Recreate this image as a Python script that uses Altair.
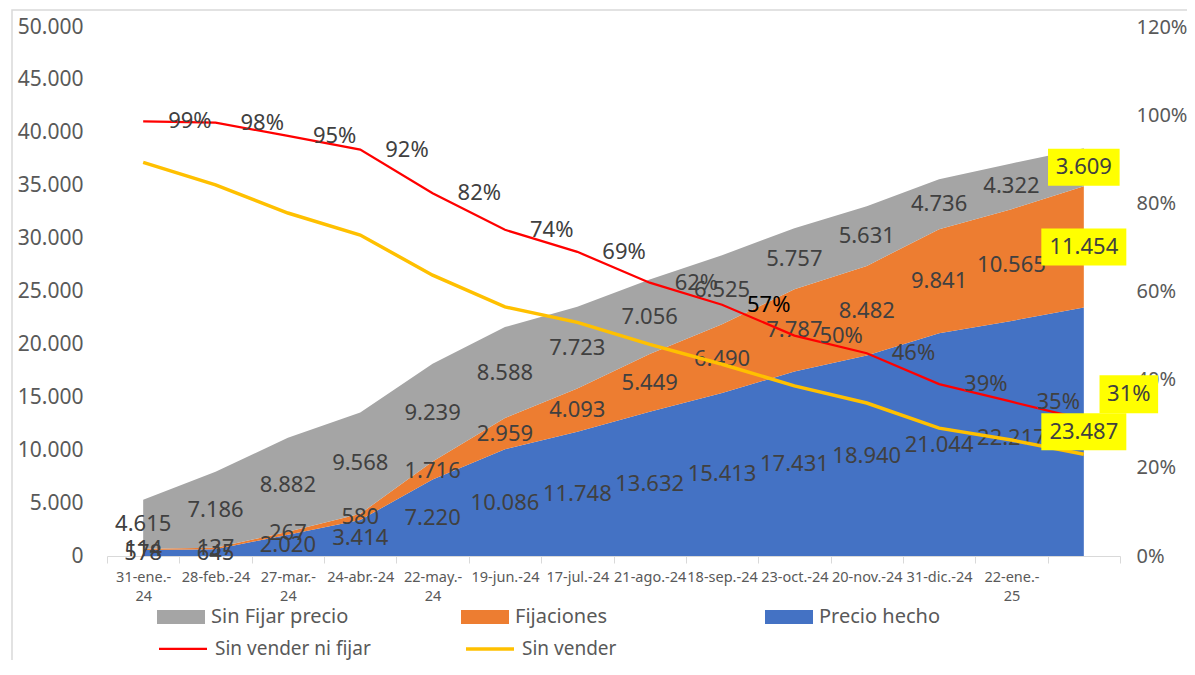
import json
import altair as alt
import pandas as pd

# ---------------- data ----------------
fechas = ["31-ene.-24", "28-feb.-24", "27-mar.-24", "24-abr.-24", "22-may.-24",
          "19-jun.-24", "17-jul.-24", "21-ago.-24", "18-sep.-24", "23-oct.-24",
          "20-nov.-24", "31-dic.-24", "22-ene.-25", ""]
fecha_en_dos_lineas = [True, False, True, False, True, False, False, False,
                       False, False, False, False, True, False]

precio_hecho = [578, 645, 2020, 3414, 7220, 10086, 11748, 13632, 15413, 17431,
                18940, 21044, 22217, 23487]
fijaciones = [114, 137, 267, 580, 1716, 2959, 4093, 5449, 6490, 7787, 8482,
              9841, 10565, 11454]
sin_fijar_precio = [4615, 7186, 8882, 9568, 9239, 8588, 7723, 7056, 6525, 5757,
                    5631, 4736, 4322, 3609]

sin_vender_ni_fijar = [0.986, 0.983, 0.953, 0.922, 0.823, 0.740, 0.690, 0.620,
                       0.570, 0.500, 0.460, 0.390, 0.350, 0.310]
sin_vender = [0.893, 0.842, 0.778, 0.728, 0.637, 0.565, 0.530, 0.480, 0.435,
              0.386, 0.347, 0.290, 0.263, 0.231]

serie_area = ["Sin Fijar precio", "Fijaciones", "Precio hecho"]
color_area = ["#A5A5A5", "#ED7D31", "#4472C4"]
serie_linea = ["Sin vender ni fijar", "Sin vender"]
color_linea = ["#FF0000", "#FFC000"]
grosor_linea = [2.25, 3.5]

# ---------------- layout / style ----------------
W, H = 1013, 529
N = len(fechas)
BAND = W / N
FONT = "Noto Sans"
TXT = "#404040"
AX = "#595959"
YELLOW = "#FFFF00"


def miles(v):
    return f"{v:,}".replace(",", ".")


rows = []
for serie, vals, orden in [("Precio hecho", precio_hecho, 0),
                           ("Fijaciones", fijaciones, 1),
                           ("Sin Fijar precio", sin_fijar_precio, 2)]:
    for i, v in enumerate(vals):
        rows.append(dict(i=i, serie=serie, caja=f"caja{orden}", valor=v,
                         orden=orden, etiqueta=miles(v), ultimo=(i == N - 1)))
df_area = pd.DataFrame(rows)

rows = []
for serie, vals in zip(serie_linea, [sin_vender_ni_fijar, sin_vender]):
    for i, v in enumerate(vals):
        rows.append(dict(i=i, serie=serie, valor=v))
df_linea = pd.DataFrame(rows)

etiquetas_eje = [(f[:-2] + "|" + f[-2:]) if dos else f
                 for f, dos in zip(fechas, fecha_en_dos_lineas)]
label_expr_x = ("split((" + json.dumps(etiquetas_eje).replace('"', "'")
                + ")[round(datum.value + 0.5)] || '', '|')")

x_scale = alt.Scale(domain=[-0.5, N - 0.5], nice=False, zero=False)
yl_scale = alt.Scale(domain=[0, 50000], nice=False, zero=True)
yr_scale = alt.Scale(domain=[0, 1.2], nice=False, zero=True)

x_axis = alt.Axis(values=[k - 0.5 for k in range(N + 1)], labelExpr=label_expr_x,
                  labelOffset=BAND / 2, labelFlush=False, labelOverlap=False,
                  labelBound=False, grid=False, domainColor="#D9D9D9",
                  tickColor="#D9D9D9", tickSize=7, labelPadding=7,
                  labelFont=FONT, labelFontSize=14.5, labelColor=AX,
                  labelLineHeight=19, title=None)
x_enc = alt.X("i:Q", scale=x_scale, axis=x_axis)
x_plain = alt.X("i:Q", scale=x_scale, title=None)

yl_axis = alt.Axis(values=list(range(0, 50001, 5000)),
                   labelExpr="replace(format(datum.value, ','), ',', '.')",
                   grid=False, domain=False, ticks=False, tickSize=0,
                   labelPadding=24, labelFont=FONT, labelFontSize=21,
                   labelColor=AX, title=None)
yr_axis = alt.Axis(orient="right", values=[0, 0.2, 0.4, 0.6, 0.8, 1.0, 1.2],
                   format=".0%", grid=False, domain=False, ticks=False,
                   tickSize=0, labelPadding=16, labelFont=FONT,
                   labelFontSize=20, labelColor=AX, title=None)

stack_args = dict(stack="valor", groupby=["i"],
                  sort=[alt.SortField("orden", order="ascending")],
                  as_=["v0", "v1"])

# chart frame (decoration)
frame = alt.Chart(pd.DataFrame({"k": [0]})).mark_rect(
    filled=False, stroke="#D9D9D9", strokeWidth=1.5
).encode(x=alt.value(-95), x2=alt.value(1300), y=alt.value(-17), y2=alt.value(900))

area = alt.Chart(df_area).transform_stack(**stack_args).mark_area(
    opacity=1, interpolate="linear"
).encode(
    x=x_enc,
    y=alt.Y("v1:Q", scale=yl_scale, axis=yl_axis, stack=None),
    y2="v0:Q",
    fill=alt.Fill("serie:N", scale=alt.Scale(domain=serie_area, range=color_area),
                  legend=alt.Legend(orient="none", legendX=50, legendY=566,
                                    direction="horizontal", columns=3,
                                    gridAlign="all", columnPadding=112,
                                    symbolType="M-1,-0.2917H1V0.2917H-1Z",
                                    symbolSize=2304, symbolStrokeWidth=0,
                                    labelFont=FONT, labelFontSize=20,
                                    labelColor=AX, labelOffset=6,
                                    labelLimit=400, padding=0, title=None)),
    order=alt.Order("orden:Q"),
)

area_txt = alt.Chart(df_area).transform_stack(**stack_args).transform_calculate(
    mid="(datum.v0 + datum.v1) / 2"
).transform_filter("!datum.ultimo").mark_text(
    font=FONT, fontSize=22, color=TXT
).encode(x=x_plain, y=alt.Y("mid:Q", scale=yl_scale, title=None), text="etiqueta:N")

left_group = alt.layer(area, area_txt)

lines = alt.Chart(df_linea).mark_line(interpolate="linear").encode(
    x=x_plain,
    y=alt.Y("valor:Q", scale=yr_scale, axis=yr_axis),
    stroke=alt.Stroke("serie:N", scale=alt.Scale(domain=serie_linea, range=color_linea),
                      legend=alt.Legend(orient="none", legendX=50, legendY=596,
                                        direction="horizontal", columns=2,
                                        gridAlign="all", columnPadding=88,
                                        symbolType="stroke", symbolSize=2304,
                                        symbolStrokeWidth=2.5,
                                        labelFont=FONT, labelFontSize=19,
                                        labelColor=AX, labelOffset=6,
                                        labelLimit=400, padding=0, title=None)),
    strokeWidth=alt.StrokeWidth("serie:N", scale=alt.Scale(domain=serie_linea,
                                                           range=grosor_linea),
                                legend=None),
)

# boxed labels of last point (areas)
cajas = ["caja2", "caja1", "caja0"]
box_paths = ["M-3.58,-1.85H3.58V1.85H-3.58Z", "M-4.25,-1.85H4.25V1.85H-4.25Z",
             "M-4.25,-1.85H4.25V1.85H-4.25Z"]
area_last = alt.Chart(df_area).transform_stack(**stack_args).transform_calculate(
    mid="(datum.v0 + datum.v1) / 2"
).transform_filter("datum.ultimo")
boxes = area_last.mark_point(filled=True, size=400, color=YELLOW, opacity=1,
                             strokeWidth=0).encode(
    x=x_plain, y=alt.Y("mid:Q", scale=yl_scale, axis=None),
    shape=alt.Shape("caja:N", scale=alt.Scale(domain=cajas, range=box_paths),
                    legend=None),
)
boxes_txt = area_last.mark_text(font=FONT, fontSize=22, color=TXT).encode(
    x=x_plain, y=alt.Y("mid:Q", scale=yl_scale, axis=None), text="etiqueta:N")
box_group = alt.layer(boxes, boxes_txt)

# labels of "Sin vender ni fijar"
red = alt.Chart(df_linea).transform_filter(
    alt.datum.serie == serie_linea[0])
red_txt = red.transform_filter(f"datum.i < {N - 1}").mark_text(
    font=FONT, fontSize=22, align="left", dx=25
).encode(
    x=x_plain, y=alt.Y("valor:Q", scale=yr_scale, axis=None),
    text=alt.Text("valor:Q", format=".0%"),
    color=alt.condition("datum.i == 8", alt.value("#000000"), alt.value(TXT)),
)
red_last = red.transform_filter(f"datum.i == {N - 1}")
red_box = red_last.mark_point(filled=True, size=400, color=YELLOW, opacity=1,
                              strokeWidth=0, shape="M-2.93,-1.9H2.93V1.9H-2.93Z",
                              xOffset=45, yOffset=-25).encode(
    x=x_plain, y=alt.Y("valor:Q", scale=yr_scale, axis=None))
red_box_txt = red_last.mark_text(font=FONT, fontSize=22, color=TXT, dx=45,
                                 dy=-25).encode(
    x=x_plain, y=alt.Y("valor:Q", scale=yr_scale, axis=None),
    text=alt.Text("valor:Q", format=".0%"))
right_labels = alt.layer(red_txt, red_box, red_box_txt)

chart = alt.layer(frame, left_group, lines, box_group, right_labels).resolve_scale(
    y="independent"
).properties(
    width=W, height=H,
    autosize=alt.AutoSizeParams(type="none"),
    padding={"left": 99, "top": 19, "right": 67, "bottom": 104},
).configure(font=FONT).configure_view(strokeWidth=0)

chart.save("out.html", embed_options={"renderer": "svg", "actions": False})
